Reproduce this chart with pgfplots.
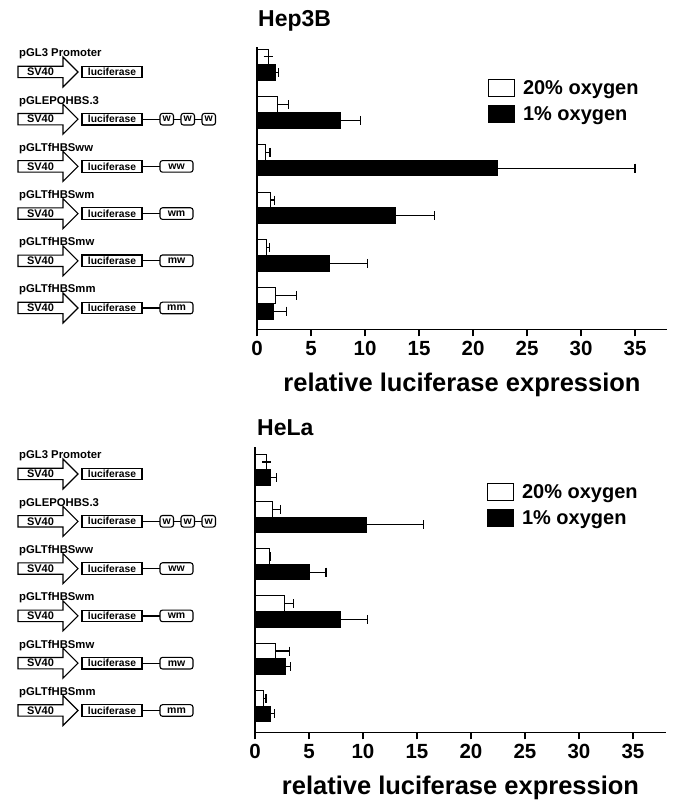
\documentclass[border=0pt]{standalone}
\usepackage{pgfplots}
\usepackage{pgfplotstable}
\pgfplotsset{compat=1.18}
\usepackage{fontspec}
\setmainfont{Liberation Sans}
\newcommand\fs[1]{\fontsize{#1}{#1}\selectfont\bfseries}

% y = group position (5 = top), w/we = 20% oxygen mean/error, b/be = 1% oxygen mean/error
\pgfplotstableread{
y w we b be
5 1.02 0.00 1.67 0.30
4 1.88 1.02 7.69 1.91
3 0.83 0.37 22.3 12.7
2 1.27 0.33 12.8 3.6
1 0.90 0.24 6.67 3.53
0 1.73 1.94 1.57 1.18
}\hepdata

\pgfplotstableread{
y w we b be
5 1.08 0.00 1.39 0.61
4 1.60 0.78 10.3 5.3
3 1.33 0.12 5.03 1.54
2 2.72 0.83 7.93 2.47
1 1.91 1.27 2.84 0.46
0 0.83 0.19 1.39 0.40
}\heladata

\pgfplotsset{
 panel/.style={scale only axis, xmin=0,
  axis x line*=bottom, axis y line*=left,
  axis line style={-, line width=1.3pt},
  ytick=\empty, xtick={0,5,...,35},
  tick align=outside, major tick length=7pt,
  every tick/.style={black, line width=1.3pt},
  /pgf/number format/assume math mode=true,
  xticklabel style={font=\fs{20.5}, anchor=base, yshift=-19pt},
  xlabel={relative luciferase expression},
  xlabel style={at={(axis description cs:0.5,0)}, anchor=base, yshift=-62pt, font=\fs{25.5}},
  clip=false,
  legend style={draw=none, fill=none, inner sep=0pt, font=\fs{20}, row sep=8.5pt,
    nodes={inner xsep=8pt, inner ysep=0pt}},
  legend cell align=left},
 basebar/.style={xbar, bar shift=0pt, bar width=0.33, draw=black, line width=1pt,
  legend image code/.code={\draw[##1, line width=1.1pt] (0pt,-8.3pt) rectangle (25.7pt,8.3pt);},
  error bars/x dir=plus, error bars/x explicit,
  error bars/error bar style={line width=1.1pt, black},
  error bars/error mark=|,
  error bars/error mark options={mark size=4.5pt, line width=1.1pt, black}},
 wbar/.style={basebar, fill=white},
 bbar/.style={basebar, fill=black},
}

\newcommand\construct[3]{%
 \pgfmathsetmacro\cy{802-#1}%
 \draw[line width=1.1pt, fill=white] (18pt,\cy pt-5.7pt) -- (63pt,\cy pt-5.7pt) -- (63pt,\cy pt-15pt) -- (78pt,\cy pt) -- (63pt,\cy pt+15pt) -- (63pt,\cy pt+5.7pt) -- (18pt,\cy pt+5.7pt) -- cycle;
 \node[inner sep=0pt, font=\fs{11}] at (40.5pt,\cy pt) {SV40};
 \draw[line width=1.1pt] (82pt,\cy pt-5.8pt) rectangle (142pt,\cy pt+5.8pt);
 \node[inner sep=0pt, font=\fs{10.3}] at (112pt,\cy pt) {luciferase};
 \node[anchor=base west, inner sep=0pt, font=\fs{11.3}] at (19pt,\cy pt+15pt) {#2};
 #3}
\newcommand\ebox[3]{\draw[line width=1.1pt, rounded corners=2.5pt, fill=white] (#1pt,\cy pt-5.8pt) rectangle (#2pt,\cy pt+5.8pt);%
 \pgfmathsetmacro\mx{(#1+#2)/2}\node[inner sep=0pt, font=\fs{10.5}] at (\mx pt,\cy pt) {#3};}
\newcommand\link[2]{\draw[line width=1.3pt] (#1pt,\cy pt) -- (#2pt,\cy pt);}
\newcommand\www{\link{142}{160}\ebox{160}{173.5}{w}\link{173.5}{181}\ebox{181}{194.5}{w}\link{194.5}{202}\ebox{202}{215.5}{w}}
\newcommand\two[1]{\link{142}{160}\ebox{160}{193}{#1}}

\begin{document}
\begin{tikzpicture}
\path[use as bounding box] (0pt,0pt) rectangle (676pt,802pt);

% ---------- Hep3B ----------
\begin{axis}[panel, at={(257pt,472.7pt)}, anchor=south west,
  width=410pt, height=282.6pt, xmax=37.96, ymin=-0.545, ymax=5.38,
  legend style={at={(0.5634,0.886)}, anchor=north west}]
\addplot[wbar] table[x=w, y expr=\thisrow{y}+0.165, x error=we]{\hepdata};
\addplot[bbar] table[x=b, y expr=\thisrow{y}-0.165, x error=be]{\hepdata};
\legend{20\% oxygen, 1\% oxygen}
\end{axis}

% ---------- HeLa ----------
\begin{axis}[panel, at={(255pt,69.5pt)}, anchor=south west,
  width=411pt, height=285.8pt, xmax=38.06, ymin=-0.56, ymax=5.49,
  legend style={at={(0.5645,0.873)}, anchor=north west}]
\addplot[wbar] table[x=w, y expr=\thisrow{y}+0.165, x error=we]{\heladata};
\addplot[bbar] table[x=b, y expr=\thisrow{y}-0.165, x error=be]{\heladata};
\legend{20\% oxygen, 1\% oxygen}
\end{axis}

\node[anchor=base west, inner sep=0pt, font=\fs{23}] at (258pt,775.3pt) {Hep3B};
\node[anchor=base west, inner sep=0pt, font=\fs{23}] at (257pt,366pt) {HeLa};

% construct diagrams, Hep3B
\construct{72}{pGL3 Promoter}{}
\construct{119.2}{pGLEPOHBS.3}{\www}
\construct{166.4}{pGLTfHBSww}{\two{ww}}
\construct{213.6}{pGLTfHBSwm}{\two{wm}}
\construct{260.8}{pGLTfHBSmw}{\two{mw}}
\construct{308}{pGLTfHBSmm}{\two{mm}}
% construct diagrams, HeLa
\construct{474}{pGL3 Promoter}{}
\construct{521.3}{pGLEPOHBS.3}{\www}
\construct{568.6}{pGLTfHBSww}{\two{ww}}
\construct{615.9}{pGLTfHBSwm}{\two{wm}}
\construct{663.2}{pGLTfHBSmw}{\two{mw}}
\construct{710.5}{pGLTfHBSmm}{\two{mm}}
\end{tikzpicture}
\end{document}
